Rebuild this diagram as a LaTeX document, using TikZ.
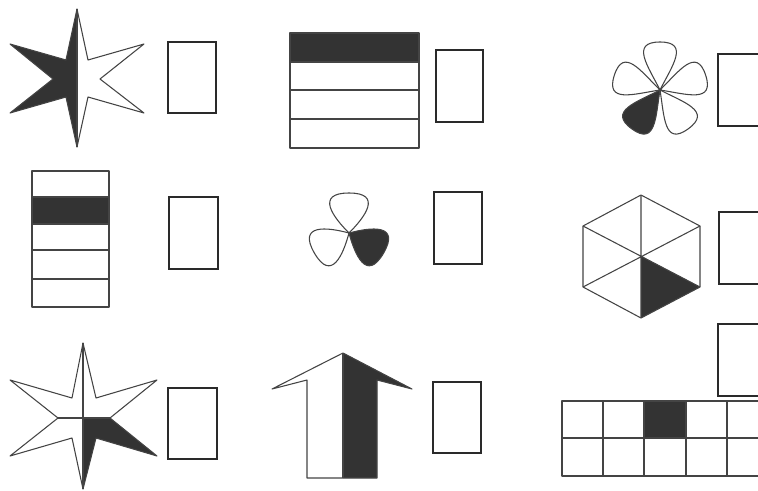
\documentclass[tikz,border=0pt]{standalone}
\definecolor{darkc}{HTML}{333333}
\definecolor{linec}{HTML}{444444}
\definecolor{boxc}{HTML}{2A2A2A}
\begin{document}
\begin{tikzpicture}[x=0.75pt,y=-0.75pt,
  shp/.style={draw=linec, line width=0.8pt, line join=round},
  box/.style={draw=boxc, line width=1.4pt},
  petal/.pic={\path[pic actions] (0,0) .. controls (24,-12) and (48,-30) .. (48,0) .. controls (48,30) and (24,12) .. (0,0) -- cycle;},
  leaf/.pic={\path[pic actions] (0,0) .. controls (16,-16) and (40,-34) .. (40,0) .. controls (40,34) and (16,16) .. (0,0) -- cycle;}
  ]
\useasboundingbox (0,0) rectangle (758,490);
\clip (0,0) rectangle (758,490);

% --- row 1: six-pointed star
\fill[darkc] (77,9) -- (66,60) -- (10,44) -- (53,79) -- (10,113) -- (66,97) -- (77,147) -- cycle;
\draw[shp] (77,9) -- (88,60) -- (144,44) -- (100,79) -- (144,113) -- (88,97) -- (77,147) -- (66,97) -- (10,113) -- (53,79) -- (10,44) -- (66,60) -- cycle;
\draw[shp] (77,9) -- (77,147);
\draw[box] (168,42) rectangle (216,113);

% --- row 1: striped rectangle
\fill[darkc] (290,33) rectangle (419,62);
\draw[shp] (290,33) rectangle (419,148);
\draw[shp] (290,62) -- (419,62) (290,90) -- (419,90) (290,119) -- (419,119);
\draw[box] (436,50) rectangle (483,122);

% --- row 1: five-petal flower
\begin{scope}[shift={(660,90)}]
  \foreach \a in {90,162,306,18} \pic[rotate=\a, shp] {petal};
  \pic[rotate=234, shp, fill=darkc] {petal};
\end{scope}
\draw[box] (718,54) rectangle (770,126);

% --- row 2: vertical striped rectangle
\fill[darkc] (32,197) rectangle (109,224);
\draw[shp] (32,171) rectangle (109,307);
\draw[shp] (32,197) -- (109,197) (32,224) -- (109,224) (32,250) -- (109,250) (32,279) -- (109,279);
\draw[box] (169,197) rectangle (218,269);

% --- row 2: trefoil
\begin{scope}[shift={(349,233)}]
  \foreach \a in {90,210} \pic[rotate=\a, shp] {leaf};
  \pic[rotate=330, shp, fill=darkc] {leaf};
\end{scope}
\draw[box] (434,192) rectangle (482,264);

% --- row 2: hexagon
\coordinate (hc) at (641,256);
\fill[darkc] (hc) -- (700,287) -- (641,318) -- cycle;
\draw[shp] (641,195) -- (700,226) -- (700,287) -- (641,318) -- (583,287) -- (583,226) -- cycle;
\draw[shp] (641,195) -- (641,318) (583,226) -- (700,287) (583,287) -- (700,226);
\draw[box] (719,212) rectangle (770,284);

% --- row 3: star with cross
\fill[darkc] (83,418) -- (110,418) -- (157,456) -- (96,438) -- (83,489) -- cycle;
\draw[shp] (83,343) -- (96,398) -- (157,380) -- (110,418) -- (157,456) -- (96,438) -- (83,489) -- (72,438) -- (10,456) -- (58,418) -- (10,380) -- (72,398) -- cycle;
\draw[shp] (83,343) -- (83,489) (58,418) -- (110,418);
\draw[box] (168,388) rectangle (217,459);

% --- row 3: arrow
\fill[darkc] (343,353) -- (412,389) -- (377,380) -- (377,478) -- (343,478) -- cycle;
\draw[shp] (272,389) -- (343,353) -- (412,389) -- (377,380) -- (377,478) -- (307,478) -- (307,380) -- cycle;
\draw[shp] (343,353) -- (343,478);
\draw[box] (433,382) rectangle (481,453);

% --- row 3: grid
\draw[box] (718,324) rectangle (770,396);
\fill[darkc] (644,401) rectangle (686,438);
\draw[shp] (562,401) rectangle (770,476);
\draw[shp] (562,438) -- (770,438);
\foreach \x in {603,644,686,727} \draw[shp] (\x,401) -- (\x,476);
\end{tikzpicture}
\end{document}
